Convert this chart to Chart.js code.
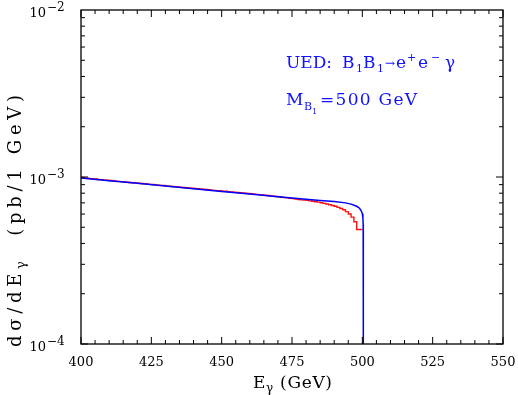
<!DOCTYPE html>
<html><head><meta charset="utf-8">
<script src="https://cdn.jsdelivr.net/npm/chart.js@4.4.1/dist/chart.umd.min.js"></script>
<style>html,body{margin:0;padding:0;background:#fff;}canvas{display:block;}</style>
</head><body>
<canvas id="c" width="518" height="395"></canvas>
<script>
// ---- data ----
const xTickValues = [400, 425, 450, 475, 500, 525, 550];
const xTickLabels = ['400', '425', '450', '475', '500', '525', '550'];
const yTickValues = [1e-4, 1e-3, 1e-2];
const yTickBase = ['10', '10', '10'];
const yTickExponents = ['\u22124', '\u22123', '\u22122'];

// smooth theory curve (blue)
const blueE = [400, 410, 420, 430, 440, 450, 460, 470, 480, 485, 490, 494, 496, 498, 499, 499.6, 500.0, 500.2, 500.3, 500.35, 500.35];
const blueV = [0.987e-3, 0.951e-3, 0.916e-3, 0.883e-3, 0.851e-3, 0.820e-3, 0.790e-3, 0.761e-3, 0.735e-3, 0.724e-3,
               0.713e-3, 0.700e-3, 0.688e-3, 0.668e-3, 0.650e-3, 0.628e-3, 0.602e-3, 0.570e-3, 0.520e-3, 0.420e-3, 1e-4];

// Monte-Carlo histogram (red), 1 GeV bins from 400 to 500 (values x1e-3)
const redBinLow = Array.from({length: 100}, (_, i) => 400 + i);
const redBinEnd = 500;
const redV = [
  0.995, 0.993, 0.985, 0.984, 0.978, 0.975, 0.972, 0.965, 0.964, 0.958,
  0.957, 0.952, 0.950, 0.944, 0.942, 0.938, 0.934, 0.931, 0.927, 0.924,
  0.922, 0.919, 0.914, 0.911, 0.909, 0.903, 0.902, 0.897, 0.893, 0.891,
  0.889, 0.885, 0.882, 0.878, 0.876, 0.871, 0.869, 0.866, 0.862, 0.860,
  0.856, 0.853, 0.851, 0.847, 0.844, 0.841, 0.838, 0.835, 0.832, 0.829,
  0.827, 0.822, 0.821, 0.817, 0.815, 0.811, 0.809, 0.805, 0.803, 0.800,
  0.796, 0.794, 0.790, 0.787, 0.784, 0.781, 0.778, 0.775, 0.771, 0.768,
  0.764, 0.761, 0.757, 0.753, 0.750, 0.746, 0.742, 0.738, 0.734, 0.730,
  0.728, 0.724, 0.720, 0.716, 0.711, 0.707, 0.701, 0.695, 0.689, 0.682,
  0.675, 0.668, 0.658, 0.648, 0.636, 0.620, 0.600, 0.575, 0.540, 0.485
];

// ---- build datasets ----
const bluePts = blueE.map((e, i) => ({x: e, y: blueV[i]}));
const redPts = redBinLow.map((e, i) => ({x: e, y: redV[i] * 1e-3}));
redPts.push({x: redBinEnd, y: redV[redV.length - 1] * 1e-3});

const SERIF = '"DejaVu Serif", "Liberation Serif", serif';

function drawSpaced(ctx, runs, x0, y0, target) {
  let natural = 0, n = 0;
  runs.forEach(r => { ctx.font = r.s + 'px ' + SERIF; for (const ch of r.t) { natural += ctx.measureText(ch).width; n++; } });
  const ls = target ? Math.max(0, (target - natural) / (n - 1)) : 0;
  let x = x0;
  runs.forEach(r => {
    ctx.font = r.s + 'px ' + SERIF;
    for (const ch of r.t) { ctx.fillText(ch, x, y0 + (r.dy || 0)); x += ctx.measureText(ch).width + ls; }
  });
}

const framePlugin = {
  id: 'frame',
  afterDatasetsDraw(chart) {
    const {ctx, chartArea: a, scales: {x, y}} = chart;
    ctx.save();
    ctx.strokeStyle = '#000';
    ctx.lineWidth = 1.3;
    ctx.strokeRect(a.left, a.top, a.right - a.left, a.bottom - a.top);
    ctx.lineWidth = 1;
    ctx.beginPath();
    for (let v = 400; v <= 550; v += 5) {
      const px = x.getPixelForValue(v);
      const L = (v % 25 === 0) ? 7 : 4;
      ctx.moveTo(px, a.bottom); ctx.lineTo(px, a.bottom - L);
      ctx.moveTo(px, a.top); ctx.lineTo(px, a.top + L);
    }
    for (let d = -4; d <= -3; d++) {
      for (let m = 1; m <= 9; m++) {
        const py = y.getPixelForValue(m * Math.pow(10, d));
        const L = (m === 1) ? 7 : 4;
        ctx.moveTo(a.left, py); ctx.lineTo(a.left + L, py);
        ctx.moveTo(a.right, py); ctx.lineTo(a.right - L, py);
      }
    }
    ctx.stroke();

    // tick labels
    ctx.fillStyle = '#000';
    ctx.textBaseline = 'alphabetic';
    ctx.font = '13px ' + SERIF;
    ctx.textAlign = 'center';
    xTickValues.forEach((v, i) => ctx.fillText(xTickLabels[i], x.getPixelForValue(v), 366));
    yTickValues.forEach((v, i) => {
      const py = y.getPixelForValue(v);
      ctx.textAlign = 'right';
      ctx.font = '13px ' + SERIF;
      ctx.fillText(yTickBase[i], 46, py + 7);
      ctx.textAlign = 'left';
      ctx.font = '12px ' + SERIF;
      ctx.fillText(yTickExponents[i], 47, py + 1);
    });

    // axis titles
    ctx.textAlign = 'left';
    drawSpaced(ctx, [{t: 'E', s: 17}, {t: '\u03B3', s: 12, dy: 4}, {t: ' (GeV)', s: 17}], 253, 388, 79);
    ctx.save();
    ctx.translate(21, 347);
    ctx.rotate(-Math.PI / 2);
    drawSpaced(ctx, [{t: 'd\u03C3/dE', s: 18}, {t: '\u03B3', s: 13, dy: 4}, {t: '  (pb/1 GeV)', s: 18}], 0, 0, 252);
    ctx.restore();

    // annotation
    ctx.fillStyle = '#1212ff';
    const ann = [
      ['UED:', 17, 286, 68], ['B', 17, 342, 68], ['1', 11, 356, 72], ['B', 17, 363, 68], ['1', 11, 377, 72],
      ['\u2192', 12, 385, 67], ['e', 17, 396, 68], ['+', 11, 407, 61], ['e', 17, 418, 68], ['\u2212', 11, 431, 61],
      ['\u03B3', 17, 445, 68],
      ['M', 17, 286, 105], ['B', 11, 304, 110], ['1', 8, 312, 114]
    ];
    ann.forEach(([t, s, ax, ay]) => { ctx.font = s + 'px ' + SERIF; ctx.fillText(t, ax, ay); });
    drawSpaced(ctx, [{t: '=500 GeV', s: 17}], 320, 105, 97);
    ctx.restore();
  }
};

new Chart(document.getElementById('c'), {
  type: 'line',
  data: {
    datasets: [
      {label: 'theory', data: bluePts, borderColor: '#0000ff', borderWidth: 1.5, pointRadius: 0, tension: 0, fill: false, order: 0},
      {label: 'MC', data: redPts, borderColor: '#ff1010', borderWidth: 1.4, pointRadius: 0, stepped: 'after', fill: false, order: 1}
    ]
  },
  options: {
    responsive: false,
    devicePixelRatio: 1,
    animation: false,
    layout: {padding: {left: 81, right: 15, top: 10, bottom: 51}},
    plugins: {legend: {display: false}, tooltip: {enabled: false}},
    scales: {
      x: {type: 'linear', min: 400, max: 550, display: false},
      y: {type: 'logarithmic', min: 1e-4, max: 1e-2, display: false}
    }
  },
  plugins: [framePlugin]
});
</script>
</body></html>
